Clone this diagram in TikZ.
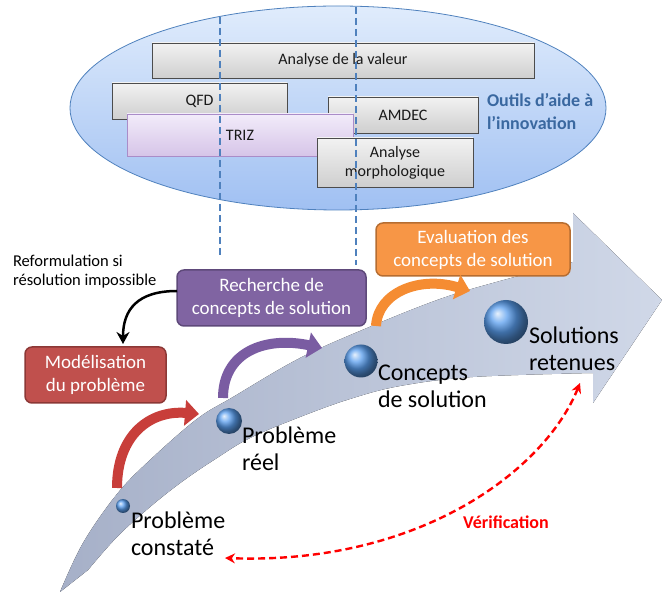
\documentclass[tikz,border=0pt]{standalone}
\usepackage{fontspec}
\setmainfont{Carlito}
\usetikzlibrary{arrows.meta,shapes.geometric}
\definecolor{ellA}{RGB}{224,236,252}
\definecolor{ellB}{RGB}{160,192,242}
\definecolor{elldraw}{RGB}{79,129,189}
\definecolor{outilsblue}{RGB}{58,104,160}
\definecolor{dashblue}{RGB}{79,129,189}
\definecolor{trizA}{RGB}{242,236,250}
\definecolor{trizB}{RGB}{214,196,232}
\definecolor{trizdraw}{RGB}{170,140,200}
\definecolor{rechfill}{RGB}{128,100,162}
\definecolor{rechdraw}{RGB}{94,73,122}
\definecolor{modfill}{RGB}{192,80,77}
\definecolor{moddraw}{RGB}{140,56,54}
\definecolor{evalfill}{RGB}{247,150,70}
\definecolor{evaldraw}{RGB}{182,109,49}
\definecolor{redarc}{RGB}{200,62,58}
\definecolor{purparc}{RGB}{122,92,162}
\definecolor{orarc}{RGB}{245,140,50}
\definecolor{bodyA}{RGB}{166,176,200}
\definecolor{bodyB}{RGB}{208,216,232}
\definecolor{ballblue}{RGB}{90,158,238}
\definecolor{verifred}{RGB}{255,0,0}
\tikzset{
  every node/.style={inner sep=0pt, outer sep=0pt},
  ellstyle/.style={ellipse, draw=elldraw, line width=0.8pt, top color=ellA, bottom color=ellB,
    minimum width=536pt, minimum height=204pt},
  toolbox/.style={draw=black!70, line width=0.8pt, top color=gray!10, bottom color=gray!38,
    font=\fontsize{16}{19}\selectfont, align=center, text=black!90},
  trizbox/.style={draw=trizdraw, line width=0.8pt, top color=trizA, bottom color=trizB,
    font=\fontsize{16}{19}\selectfont, align=center, text=black!90},
  stepbox/.style={rounded corners=7pt, line width=1.5pt, text=white,
    font=\fontsize{19}{23}\selectfont, align=center},
  dashline/.style={draw=dashblue, line width=1.2pt, dash pattern=on 7pt off 4pt},
  sphere/.style={circle, shading=ball, ball color=ballblue},
  lbl/.style={font=\fontsize{24}{27}\selectfont, align=left, anchor=west, text=black},
  arc/.style={line width=10pt, -{Triangle[length=14pt,width=25pt]}},
  blackarr/.style={line width=2.5pt, -{Stealth[length=12pt,width=13pt]}},
  verif/.style={draw=verifred, line width=2.4pt, dash pattern=on 7pt off 4pt,
    {Stealth[length=10pt,width=10pt]}-{Stealth[length=10pt,width=10pt]}}
}
\begin{document}
\begin{tikzpicture}[x=1pt,y=-1pt]
\useasboundingbox (0,0) rectangle (662,593);
% ellipse of tools
\node[ellstyle] (ell) at (338,108) {};
\node[toolbox, minimum width=382pt, minimum height=35pt] (valeur) at (343,60.5) {Analyse de la valeur};
\node[toolbox, minimum width=175pt, minimum height=36pt] (qfd) at (199.5,101) {QFD};
\node[toolbox, minimum width=150pt, minimum height=36pt] (amdec) at (403,115) {AMDEC};
\node[trizbox, minimum width=226pt, minimum height=42pt] (triz) at (240,135) {TRIZ};
\node[toolbox, minimum width=156pt, minimum height=49pt] (morph) at (395,162.5) {Analyse\\morphologique};
\node[font=\bfseries\fontsize{18}{23}\selectfont, text=outilsblue, align=left, anchor=west] (outils) at (487,112)
  {Outils d’aide à\\l’innovation};
% dashed lines
\coordinate (d1a) at (220,17);
\coordinate (d1b) at (220,258);
\coordinate (d2a) at (356,7);
\coordinate (d2b) at (356,265);
\draw[dashline] (d1a) -- (d1b);
\draw[dashline] (d2a) -- (d2b);
% big arrow
\fill[left color=bodyA, right color=bodyB]
  (60,592) -- plot[smooth, tension=0.6] coordinates {(60,592) (83,543) (117,494) (150,460) (197,419) (233,397) (300,358) (367,328) (440,299) (500,281) (573,262)}
  -- (573,213) -- (662,300) -- (593,403) -- (593,373)
  -- plot[smooth, tension=0.6] coordinates {(593,373) (473,377) (400,386) (350,399) (300,417) (250,438) (217,458) (183,481) (150,507) (117,537) (88,570)}
  -- (60,592) -- cycle;
% step boxes
\node[stepbox, fill=rechfill, draw=rechdraw, minimum width=189pt, minimum height=56pt] (rech) at (271.5,298) {Recherche de\\concepts de solution};
\node[stepbox, fill=modfill, draw=moddraw, minimum width=141pt, minimum height=56pt] (model) at (95.5,375) {Modélisation\\du problème};
\node[stepbox, fill=evalfill, draw=evaldraw, minimum width=194pt, minimum height=53pt] (eval) at (473,249.5) {Evaluation des\\concepts de solution};
\node[font=\fontsize{16.5}{19}\selectfont, align=left, anchor=west] (reform) at (13,271.5) {Reformulation si\\résolution impossible};
\coordinate (mtop) at (123,344);
\draw[blackarr] ([yshift=7pt]rech.west) .. controls (137,291) and (123,310) .. (mtop);
% curved step arrows
\coordinate (ra) at (117,488);
\coordinate (rb) at (199,414);
\coordinate (pa) at (223,398);
\coordinate (pb) at (322,348);
\coordinate (oa) at (376,326);
\coordinate (ob) at (470,291);
\draw[arc, draw=redarc] (ra) .. controls (117,435) and (150,410) .. (rb);
\draw[arc, draw=purparc] (pa) .. controls (223,352) and (265,336) .. (pb);
\draw[arc, draw=orarc] (oa) .. controls (378,292) and (420,276) .. (ob);
% spheres
\node[sphere, minimum size=14pt] (s1) at (123,506) {};
\node[sphere, minimum size=26pt] (s2) at (229,421) {};
\node[sphere, minimum size=33pt] (s3) at (361,361) {};
\node[sphere, minimum size=44pt] (s4) at (506,322) {};
% labels
\node[lbl] (t1) at (131,533.5) {Problème\\constaté};
\node[lbl] (t2) at (242,449) {Problème\\réel};
\node[lbl] (t3) at (378,386.5) {Concepts\\de solution};
\node[lbl] (t4) at (529,349) {Solutions\\retenues};
% verification
\coordinate (va) at (580,383);
\coordinate (vb) at (225,558);
\draw[verif] (va) .. controls (545,470) and (420,565) .. (vb);
\node[font=\bfseries\fontsize{18}{21}\selectfont, text=verifred] (vtxt) at (506,522) {Vérification};
\end{tikzpicture}
\end{document}
